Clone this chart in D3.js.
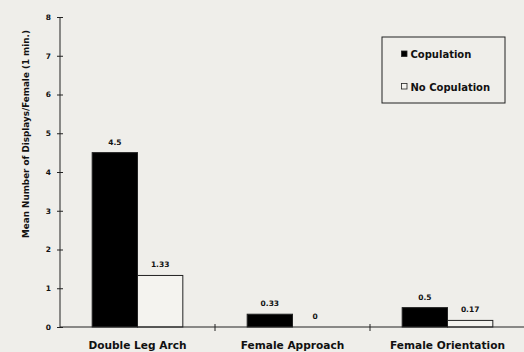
<!DOCTYPE html>
<html>
<head>
<meta charset="utf-8">
<script src="https://cdn.jsdelivr.net/npm/d3@7"></script>
<style>
  html, body { margin: 0; padding: 0; background: #efeeea; }
  svg { display: block; }
  text { font-family: "DejaVu Sans", Arial, sans-serif; font-weight: bold; fill: #111; }
</style>
</head>
<body>
<svg id="chart" width="524" height="352"></svg>
<script>
// Behaviours observed per female
const categories = ["Double Leg Arch", "Female Approach", "Female Orientation"];
const seriesNames = ["Copulation", "No Copulation"];
const copulation = [4.5, 0.33, 0.5];
const noCopulation = [1.33, 0, 0.17];
const yTicks = [0, 1, 2, 3, 4, 5, 6, 7, 8];
const yTitle = "Mean Number of Displays/Female (1 min.)";

const W = 524, H = 352;
const margin = { left: 60, right: -1, top: 17, bottom: 25 };
const svg = d3.select("#chart");
const FONT = "DejaVu Sans, Arial, sans-serif";

const x = d3.scaleBand()
  .domain(categories)
  .range([margin.left, W - margin.right])
  .paddingInner(0)
  .paddingOuter(0);

const sub = d3.scaleBand()
  .domain(seriesNames)
  .range([0, x.bandwidth()])
  .paddingInner(0)
  .paddingOuter(0.71);

const y = d3.scaleLinear().domain([0, 8]).range([H - margin.bottom, margin.top]);

const fills = { "Copulation": "#000", "No Copulation": "#f4f3ef" };

// Bars with value labels
const rows = categories.map((c, i) => ({ cat: c, vals: [copulation[i], noCopulation[i]] }));
const g = svg.append("g");
rows.forEach(r => {
  r.vals.forEach((v, j) => {
    const s = seriesNames[j];
    const bx = x(r.cat) + sub(s);
    g.append("rect")
      .attr("x", bx)
      .attr("y", y(v))
      .attr("width", sub.bandwidth())
      .attr("height", y(0) - y(v))
      .attr("fill", fills[s])
      .attr("stroke", "#222")
      .attr("stroke-width", 1);
    g.append("text")
      .attr("x", bx + sub.bandwidth() / 2)
      .attr("y", y(v) - 8)
      .attr("text-anchor", "middle")
      .attr("font-size", 7.5)
      .text(String(v));
  });
});

// Y axis with ticks crossing the line
const yAxis = d3.axisLeft(y).tickValues(yTicks).tickSize(3).tickSizeOuter(0).tickFormat(d3.format("d"));
const ya = svg.append("g").attr("transform", `translate(${margin.left},0)`).call(yAxis);
ya.select(".domain").attr("stroke", "#222").attr("d", `M0,${y(8)}V${y(0)}`);
ya.selectAll(".tick line").attr("x1", 3).attr("x2", -3).attr("stroke", "#222");
ya.selectAll(".tick text").attr("x", -9).attr("font-size", 7.5)
  .attr("font-family", FONT).attr("font-weight", "bold").attr("fill", "#111");

// X axis: baseline with ticks between categories
const xa = svg.append("g").attr("transform", `translate(0,${y(0)})`);
xa.append("line").attr("x1", margin.left).attr("x2", W).attr("stroke", "#222");
categories.slice(1).forEach(c => {
  xa.append("line").attr("x1", x(c)).attr("x2", x(c)).attr("y1", -3).attr("y2", 4).attr("stroke", "#222");
});
categories.forEach(c => {
  xa.append("text")
    .attr("x", x(c) + x.bandwidth() / 2)
    .attr("y", 22)
    .attr("text-anchor", "middle")
    .attr("font-size", 10.6)
    .text(c);
});

// Y axis title
svg.append("text")
  .attr("transform", `translate(28.5,134) rotate(-90)`)
  .attr("text-anchor", "middle")
  .attr("font-size", 8.8)
  .text(yTitle);

// Legend
const lg = svg.append("g");
lg.append("rect").attr("x", 382).attr("y", 37).attr("width", 123).attr("height", 66)
  .attr("fill", "none").attr("stroke", "#222").attr("stroke-width", 1);
seriesNames.forEach((s, i) => {
  const ly = 54 + i * 32.5;
  lg.append("rect").attr("x", 401.5).attr("y", ly - 3).attr("width", 5.5).attr("height", 5.5)
    .attr("fill", fills[s]).attr("stroke", "#222").attr("stroke-width", 0.8);
  lg.append("text").attr("x", 410.5).attr("y", ly + 4).attr("font-size", 10).text(s);
});
</script>
</body>
</html>
